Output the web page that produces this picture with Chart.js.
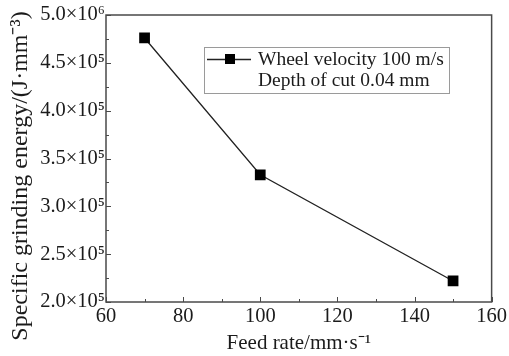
<!DOCTYPE html>
<html>
<head>
<meta charset="utf-8">
<script src="https://cdn.jsdelivr.net/npm/chart.js@4.4.1/dist/chart.umd.min.js"></script>
<style>
  html, body { margin: 0; padding: 0; background: #fff; }
</style>
</head>
<body>
<canvas id="energy-chart" width="509" height="356"></canvas>
<script>
// feed rate (mm/s) vs specific grinding energy (J/mm^3)
const feedRates = [70, 100, 150]
const specificEnergy = [4.76e5, 3.33e5, 2.22e5]
const yTickLabels = ['2.0×10⁵', '2.5×10⁵', '3.0×10⁵', '3.5×10⁵', '4.0×10⁵', '4.5×10⁵', '5.0×10⁶']
const legendLines = ['Wheel velocity 100 m/s', 'Depth of cut 0.04 mm']
const yTitle = 'Specific grinding energy/(J·mm⁻³)'

const serif = 'Liberation Serif'
const inkColor = '#1b1b1b'
const frameColor = '#4a4a4a'

// closed frame plus inward major/minor tick marks
const frameTicks = {
  id: 'frameTicks',
  beforeDatasetsDraw(chart) {
    const { ctx, chartArea: a, scales: { x, y } } = chart
    ctx.save()
    ctx.strokeStyle = frameColor
    ctx.lineWidth = 1.5
    ctx.strokeRect(a.left, a.top, a.right - a.left, a.bottom - a.top)
    ctx.lineWidth = 1
    ctx.beginPath()
    for (let v = x.min; v <= x.max; v += 10) {
      const px = Math.round(x.getPixelForValue(v)) + 0.5
      const len = (v - x.min) % 20 === 0 ? 5 : 3
      ctx.moveTo(px, a.bottom)
      ctx.lineTo(px, a.bottom - len)
    }
    for (let v = y.min; v <= y.max; v += 0.25e5) {
      const py = Math.round(y.getPixelForValue(v)) + 0.5
      const len = Math.round((v - y.min) / 0.25e5) % 2 === 0 ? 5 : 3
      ctx.moveTo(a.left, py)
      ctx.lineTo(a.left + len, py)
    }
    ctx.stroke()
    ctx.restore()
  }
}

// rotated y title, sitting a bit below the plot's middle
const sideTitle = {
  id: 'sideTitle',
  afterDraw(chart) {
    const { ctx } = chart
    ctx.save()
    ctx.translate(21, 176)
    ctx.rotate(-Math.PI / 2)
    ctx.fillStyle = inkColor
    ctx.font = '24px "' + serif + '"'
    ctx.textAlign = 'center'
    ctx.textBaseline = 'middle'
    ctx.fillText(yTitle, 0, 0)
    ctx.restore()
  }
}

// boxed legend inside the plot
const boxLegend = {
  id: 'boxLegend',
  afterDraw(chart) {
    const { ctx } = chart
    const bx = 204, by = 47, bw = 245, bh = 46
    ctx.save()
    ctx.fillStyle = '#fff'
    ctx.fillRect(bx, by, bw, bh)
    ctx.strokeStyle = '#9a9a9a'
    ctx.lineWidth = 1
    ctx.strokeRect(bx + 0.5, by + 0.5, bw, bh)
    ctx.strokeStyle = '#222'
    ctx.lineWidth = 1.3
    ctx.beginPath()
    ctx.moveTo(bx + 3, by + 12.5)
    ctx.lineTo(bx + 47, by + 12.5)
    ctx.stroke()
    ctx.fillStyle = '#000'
    ctx.fillRect(bx + 21, by + 7, 10, 10)
    ctx.fillStyle = inkColor
    ctx.font = '19.5px "' + serif + '"'
    ctx.textBaseline = 'middle'
    ctx.fillText(legendLines[0], bx + 54, by + 13)
    ctx.fillText(legendLines[1], bx + 54, by + 34)
    ctx.restore()
  }
}

const config = {
  type: 'line',
  data: {
    datasets: [
      {
        label: legendLines[0],
        data: feedRates.map((f, i) => ({ x: f, y: specificEnergy[i] })),
        borderColor: '#222',
        borderWidth: 1.3,
        backgroundColor: '#000',
        pointStyle: 'rect',
        pointRadius: 7.6,
        pointBorderWidth: 0,
        tension: 0
      }
    ]
  },
  options: {
    responsive: false,
    animation: false,
    layout: { padding: { left: 0, top: 15, right: 17, bottom: 0 } },
    plugins: { legend: { display: false }, tooltip: { enabled: false } },
    scales: {
      x: {
        type: 'linear',
        min: 60,
        max: 160,
        afterFit: s => { s.height = 54 },
        grid: { display: false, drawTicks: false },
        border: { display: false },
        ticks: {
          stepSize: 20,
          padding: 2,
          color: inkColor,
          font: { family: serif, size: 20.5 }
        },
        title: {
          display: true,
          text: 'Feed rate/mm·s⁻¹',
          color: inkColor,
          font: { family: serif, size: 21 },
          padding: { top: 0, bottom: 0 }
        }
      },
      y: {
        min: 2e5,
        max: 5e5,
        afterFit: s => { s.width = 106 },
        grid: { display: false, drawTicks: false },
        border: { display: false },
        ticks: {
          stepSize: 0.5e5,
          padding: 1,
          color: inkColor,
          font: { family: serif, size: 20.5 },
          callback: v => yTickLabels[Math.round((v - 2e5) / 0.5e5)]
        },
        title: { display: false }
      }
    }
  },
  plugins: [frameTicks, sideTitle, boxLegend]
}

new Chart(document.getElementById('energy-chart'), config)
</script>
</body>
</html>
